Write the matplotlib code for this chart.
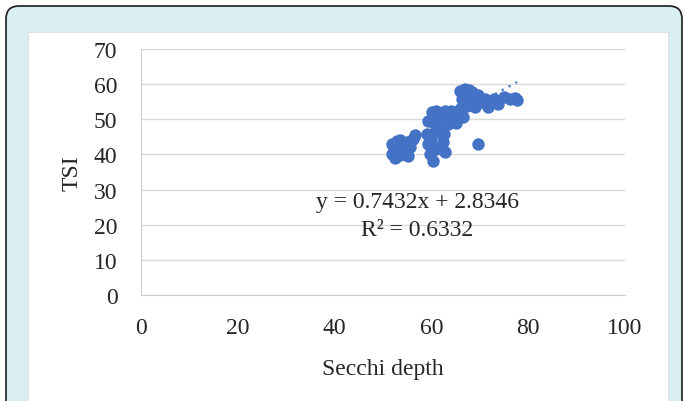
import matplotlib.pyplot as plt
import numpy as np
from matplotlib.patches import FancyBboxPatch, Rectangle

# secchi depth vs TSI
secchi = [51.9, 51.9, 52.5, 53.1, 53.5, 54.1, 54.5, 55.6, 56.1, 56.6, 55.2, 52.9,
          53.5, 55.0, 52.2, 54.0,
          59.1, 60.7, 62.6, 59.3, 61.8, 59.7, 62.8, 60.3, 61.0, 62.4, 60.0, 61.5,
          69.6,
          59.3, 60.1, 61.8, 62.8, 63.8, 64.9, 65.9, 60.7, 63.4, 66.5, 65.0,
          60.5, 62.0, 64.0, 66.0, 61.0,
          65.9, 66.9, 68.4, 69.6, 66.3, 68.0, 70.0, 71.1, 69.0, 67.4, 71.7,
          67.0, 68.5, 70.5, 67.8,
          72.9, 73.8, 75.0, 76.2, 77.3, 77.7]
tsi = [43.0, 40.1, 39.0, 42.1, 39.8, 43.0, 41.0, 42.1, 44.4, 45.5, 39.6, 43.8,
       44.0, 43.5, 41.5, 40.0,
       45.8, 46.4, 45.8, 43.0, 42.1, 40.1, 40.7, 38.1, 41.5, 43.5, 44.5, 46.5,
       43.0,
       49.5, 52.1, 50.7, 52.4, 50.1, 51.5, 52.9, 48.7, 48.7, 50.7, 48.9,
       50.5, 49.5, 52.5, 51.5, 52.5,
       58.0, 58.6, 57.8, 56.9, 55.8, 54.9, 54.9, 55.8, 53.5, 53.8, 53.5,
       56.5, 56.0, 55.5, 58.3,
       55.8, 54.4, 56.3, 55.8, 56.1, 55.5]

slope, intercept = 0.7432, 2.8346
r2 = 0.6332

plt.rcParams['font.family'] = ['Liberation Serif', 'DejaVu Serif']

fig = plt.figure(figsize=(6.85, 4.02), dpi=100)
fig.patch.set_facecolor('white')

# frame round the chart
frame = FancyBboxPatch((6 / 100, -0.5), 676 / 100, 4.02 + 0.5 - 6 / 100 - 0.01,
                       boxstyle='round,pad=0,rounding_size=0.13',
                       transform=fig.dpi_scale_trans, facecolor='#d9edf2',
                       edgecolor='#1a1a1a', linewidth=1.2, zorder=-10)
fig.patches.append(frame)
panel = Rectangle((28 / 100, -0.1), 640 / 100, 4.02 - 33 / 100 + 0.1,
                  transform=fig.dpi_scale_trans, facecolor='white',
                  edgecolor='#e0e0e0', linewidth=0.8, zorder=-9)
fig.patches.append(panel)

ax = fig.add_axes([141 / 685, 1 - 296 / 402, 484 / 685, 246 / 402])
ax.set_facecolor('none')

ax.scatter(secchi, tsi, s=80, color='#4472c4', zorder=3, linewidths=0)
xs = np.array([min(secchi), max(secchi)])
ax.plot(xs, slope * xs + intercept, color='#4472c4', linestyle=(0, (1, 2.5)),
        linewidth=1.6, zorder=4)

ax.set_xlim(0, 100)
ax.set_ylim(0, 70)
ax.set_xticks(range(0, 101, 20))
ax.set_yticks(range(0, 71, 10))
ax.grid(axis='y', color='#d9d9d9', linewidth=1)
ax.set_axisbelow(True)
for side in ['top', 'right']:
    ax.spines[side].set_visible(False)
for side in ['left', 'bottom']:
    ax.spines[side].set_color('#d0d0d0')
ax.tick_params(length=0, labelsize=17, colors='#262626')
ax.tick_params(axis='x', pad=16)
ax.tick_params(axis='y', pad=17)

ax.set_xlabel('Secchi depth', fontsize=17, color='#262626', labelpad=14)
ax.set_ylabel('TSI', fontsize=17, color='#262626', labelpad=8)

ax.text(57.1, 26.5, 'y = %.4fx + %.4f' % (slope, intercept), fontsize=17,
        ha='center', va='center', color='#262626')
ax.text(57.1, 18.5, 'R² = %.4f' % r2, fontsize=17,
        ha='center', va='center', color='#262626')

plt.savefig('out.png', dpi=100)
